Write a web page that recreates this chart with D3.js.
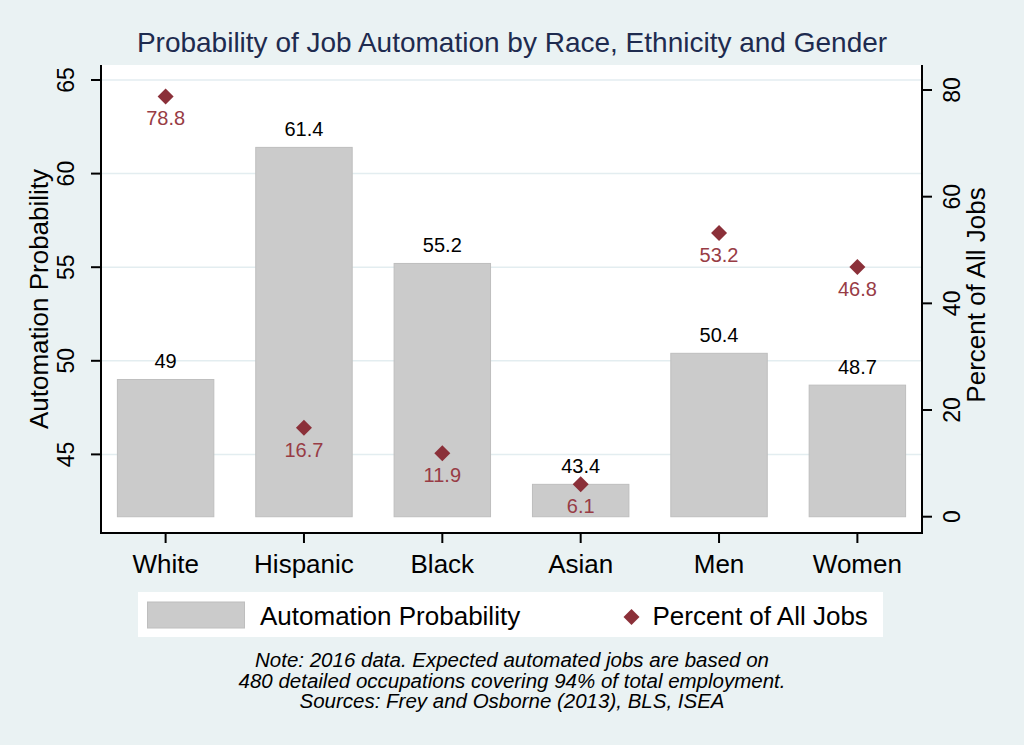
<!DOCTYPE html>
<html>
<head>
<meta charset="utf-8">
<script src="https://cdn.jsdelivr.net/npm/d3@7"></script>
<style>
  html, body { margin: 0; padding: 0; background: #EAF2F3; }
  svg { display: block; }
  text { font-family: "Liberation Sans", Arial, Helvetica, sans-serif; }
</style>
</head>
<body>
<svg id="chart" width="1024" height="745"></svg>
<script>
// ---- data ----
const categories = ["White", "Hispanic", "Black", "Asian", "Men", "Women"];
const automationProbability = [49, 61.4, 55.2, 43.4, 50.4, 48.7];
const percentOfAllJobs = [78.8, 16.7, 11.9, 6.1, 53.2, 46.8];
const leftTicks = [45, 50, 55, 60, 65];
const rightTicks = [0, 20, 40, 60, 80];
const barBase = 41.67;
const titleText = "Probability of Job Automation by Race, Ethnicity and Gender";
const leftAxisTitle = "Automation Probability";
const rightAxisTitle = "Percent of All Jobs";
const legendLabels = ["Automation Probability", "Percent of All Jobs"];
const noteLines = [
  "Note: 2016 data. Expected automated jobs are based on",
  "480 detailed occupations covering 94% of total employment.",
  "Sources: Frey and Osborne (2013), BLS, ISEA"
];

// ---- layout ----
const W = 1024, H = 745;
const plot = { left: 101, right: 922, top: 65, bottom: 533 };
const barFill = "#CBCBCB", barStroke = "#BEBEBE";
const markColor = "#8B3039";

const svg = d3.select("#chart");
svg.append("rect").attr("width", W).attr("height", H).attr("fill", "#EAF2F3");

// plot region
svg.append("rect")
  .attr("x", plot.left).attr("y", plot.top)
  .attr("width", plot.right - plot.left).attr("height", plot.bottom - plot.top)
  .attr("fill", "#FFFFFF");

const x = d3.scaleBand().domain(categories)
  .range([plot.left, plot.right]).paddingInner(0.303).paddingOuter(0.1185);
const yL = d3.scaleLinear().domain([45, 65]).range([454.4, 80]);
const yR = d3.scaleLinear().domain([0, 80]).range([516.7, 90]);

// gridlines
svg.append("g").selectAll("line").data(leftTicks).join("line")
  .attr("x1", plot.left).attr("x2", plot.right)
  .attr("y1", d => yL(d)).attr("y2", d => yL(d))
  .attr("stroke", "#E3EDF0").attr("stroke-width", 1.5);

// bars
const rows = categories.map((c, i) => ({ c, a: automationProbability[i], p: percentOfAllJobs[i] }));
svg.append("g").selectAll("rect").data(rows).join("rect")
  .attr("x", d => x(d.c)).attr("width", x.bandwidth())
  .attr("y", d => yL(d.a)).attr("height", d => yL(barBase) - yL(d.a))
  .attr("fill", barFill).attr("stroke", barStroke).attr("stroke-width", 1);

// bar labels
svg.append("g").selectAll("text").data(rows).join("text")
  .attr("x", d => x(d.c) + x.bandwidth() / 2)
  .attr("y", d => yL(d.a) - 11.5)
  .attr("text-anchor", "middle").attr("font-size", 20).attr("fill", "#000")
  .text(d => d3.format("")(d.a));

// diamonds
const diamond = d3.symbol().type(d3.symbolSquare).size(128);
svg.append("g").selectAll("path").data(rows).join("path")
  .attr("d", diamond)
  .attr("transform", d => `translate(${x(d.c) + x.bandwidth() / 2},${yR(d.p)}) rotate(45)`)
  .attr("fill", markColor);

svg.append("g").selectAll("text").data(rows).join("text")
  .attr("x", d => x(d.c) + x.bandwidth() / 2)
  .attr("y", d => yR(d.p) + 29)
  .attr("text-anchor", "middle").attr("font-size", 20).attr("fill", "#983C45")
  .text(d => d.p.toFixed(1));

// axes lines
const axisG = svg.append("g").attr("stroke", "#000").attr("stroke-width", 2);
axisG.append("line").attr("x1", plot.left).attr("x2", plot.left).attr("y1", plot.top).attr("y2", plot.bottom + 1);
axisG.append("line").attr("x1", plot.right).attr("x2", plot.right).attr("y1", plot.top).attr("y2", plot.bottom + 1);
axisG.append("line").attr("x1", plot.left - 1).attr("x2", plot.right + 1).attr("y1", plot.bottom).attr("y2", plot.bottom);

// left ticks
axisG.append("g").selectAll("line").data(leftTicks).join("line")
  .attr("x1", plot.left - 10).attr("x2", plot.left)
  .attr("y1", d => yL(d)).attr("y2", d => yL(d));
svg.append("g").selectAll("text").data(leftTicks).join("text")
  .attr("transform", d => `translate(74,${yL(d)}) rotate(-90)`)
  .attr("text-anchor", "middle").attr("font-size", 23).text(d => d);

// right ticks
axisG.append("g").selectAll("line").data(rightTicks).join("line")
  .attr("x1", plot.right).attr("x2", plot.right + 10)
  .attr("y1", d => yR(d)).attr("y2", d => yR(d));
svg.append("g").selectAll("text").data(rightTicks).join("text")
  .attr("transform", d => `translate(960,${yR(d)}) rotate(-90)`)
  .attr("text-anchor", "middle").attr("font-size", 23).text(d => d);

// bottom ticks
axisG.append("g").selectAll("line").data(categories).join("line")
  .attr("x1", d => x(d) + x.bandwidth() / 2).attr("x2", d => x(d) + x.bandwidth() / 2)
  .attr("y1", plot.bottom).attr("y2", plot.bottom + 10);
svg.append("g").selectAll("text").data(categories).join("text")
  .attr("x", d => x(d) + x.bandwidth() / 2).attr("y", 573)
  .attr("text-anchor", "middle").attr("font-size", 26).text(d => d);

// axis titles
const midY = (plot.top + plot.bottom) / 2;
svg.append("text").attr("transform", `translate(48,${midY}) rotate(-90)`)
  .attr("text-anchor", "middle").attr("font-size", 26).text(leftAxisTitle);
svg.append("text").attr("transform", `translate(985,${midY - 4}) rotate(-90)`)
  .attr("text-anchor", "middle").attr("font-size", 26).text(rightAxisTitle);

// title
svg.append("text").attr("x", W / 2).attr("y", 52)
  .attr("text-anchor", "middle").attr("font-size", 28).attr("fill", "#1E2B4F")
  .text(titleText);

// legend
const lg = svg.append("g");
lg.append("rect").attr("x", 138).attr("y", 592).attr("width", 745).attr("height", 45).attr("fill", "#FFFFFF");
lg.append("rect").attr("x", 147.5).attr("y", 602).attr("width", 97).attr("height", 26)
  .attr("fill", barFill).attr("stroke", barStroke).attr("stroke-width", 1);
lg.append("text").attr("x", 260).attr("y", 624.5).attr("font-size", 26).text(legendLabels[0]);
lg.append("path").attr("d", diamond).attr("transform", "translate(631.5,617) rotate(45)").attr("fill", markColor);
lg.append("text").attr("x", 652.5).attr("y", 624.5).attr("font-size", 26).text(legendLabels[1]);

// note
svg.append("g").selectAll("text").data(noteLines).join("text")
  .attr("x", W / 2).attr("y", (d, i) => 667 + i * 20.7)
  .attr("text-anchor", "middle").attr("font-size", 20.5).attr("font-style", "italic")
  .text(d => d);
</script>
</body>
</html>
